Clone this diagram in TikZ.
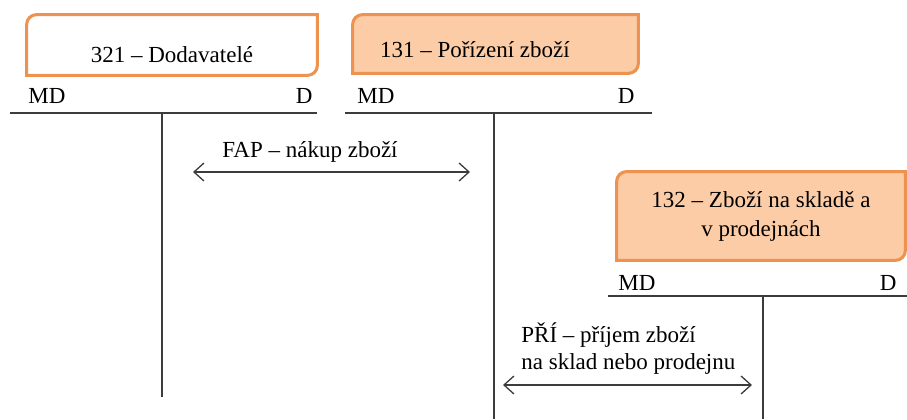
\documentclass[tikz,border=0pt]{standalone}
\usepackage{fontspec}
\setmainfont{Liberation Serif}
\usetikzlibrary{positioning,calc,arrows.meta,backgrounds}

\definecolor{ucetline}{RGB}{237,146,79}
\definecolor{ucetfill}{RGB}{251,204,166}
\definecolor{tline}{RGB}{60,60,60}

% frame with two rounded corners (top left, bottom right)
\newcommand{\ucetframe}[2]{%
  \draw[line width=1.5pt, draw=ucetline, fill=#2]
    ([yshift=-5pt]#1.north west) arc[start angle=180, end angle=90, radius=5pt]
    -- (#1.north east) -- ([yshift=5pt]#1.south east)
    arc[start angle=0, end angle=-90, radius=5pt] -- (#1.south west) -- cycle;}

\begin{document}
\begin{tikzpicture}[x=0.5pt, y=0.5pt,
	tacct/.style={draw=tline, line width=0.65pt},
	pohyb/.style={draw=tline, line width=0.65pt,
		{Straight Barb[length=5pt,width=9pt]}-{Straight Barb[length=5pt,width=9pt]}}]
	\useasboundingbox (0,0) rectangle (907,419);
	\begin{scope}
		\tikzstyle{every node}=[inner sep=0pt, font=\fontsize{11.5}{13.5}\selectfont]
		\node[minimum width=145pt, minimum height=30pt, text height=17pt, text depth=0pt] (dod) at (172,374) {321 – Dodavatelé};
		\node[minimum width=142.5pt, minimum height=29pt, text height=13pt, text depth=0pt,
			inner xsep=13.5pt, text width=115.5pt, align=flush left] (por) at (495.5,375) {131 – Pořízení zboží};
		\node[minimum width=144pt, minimum height=44pt, align=center,
			font=\fontsize{11.5}{14.5}\selectfont] (zbo) at (761,203) {132 – Zboží na skladě a\\v prodejnách};

		\node[anchor=base west] (dodmd) at (28,315) {MD};
		\node[anchor=base east] (dodd) at (313,315) {D};
		\node[anchor=base west] (pormd) at (357,315) {MD};
		\node[anchor=base east] (pord) at (635,315) {D};
		\node[anchor=base west] (zbomd) at (618,129) {MD};
		\node[anchor=base east] (zbod) at (897,129) {D};

		\coordinate (dodl) at (10,306);
		\coordinate (dodr) at (317,306);
		\coordinate (dodt) at (162,306);
		\coordinate (dodb) at (162,22);
		\coordinate (porl) at (345,306);
		\coordinate (porr) at (652,306);
		\coordinate (port) at (494,306);
		\coordinate (porb) at (494,0);
		\coordinate (zbol) at (608,123);
		\coordinate (zbor) at (907,123);
		\coordinate (zbot) at (763,123);
		\coordinate (zbob) at (763,0);

		\draw [tacct] (dodl) to (dodr);
		\draw [tacct] (dodt) to (dodb);
		\draw [tacct] (porl) to (porr);
		\draw [tacct] (port) to (porb);
		\draw [tacct] (zbol) to (zbor);
		\draw [tacct] (zbot) to (zbob);

		\node[anchor=base west] (faptxt) at (222,262) {FAP – nákup zboží};
		\coordinate (fapl) at (193,247);
		\coordinate (fapr) at (470,247);
		\draw [pohyb] (fapl) to (fapr);

		\node[anchor=west, align=left] (pritxt) at (521,70) {PŘÍ – příjem zboží\\na sklad nebo prodejnu};
		\coordinate (pril) at (503,34);
		\coordinate (prir) at (752,34);
		\draw [pohyb] (pril) to (prir);
	\end{scope}
	\begin{scope}[on background layer]
		\ucetframe{dod}{white}
		\ucetframe{por}{ucetfill}
		\ucetframe{zbo}{ucetfill}
	\end{scope}
\end{tikzpicture}
\end{document}
